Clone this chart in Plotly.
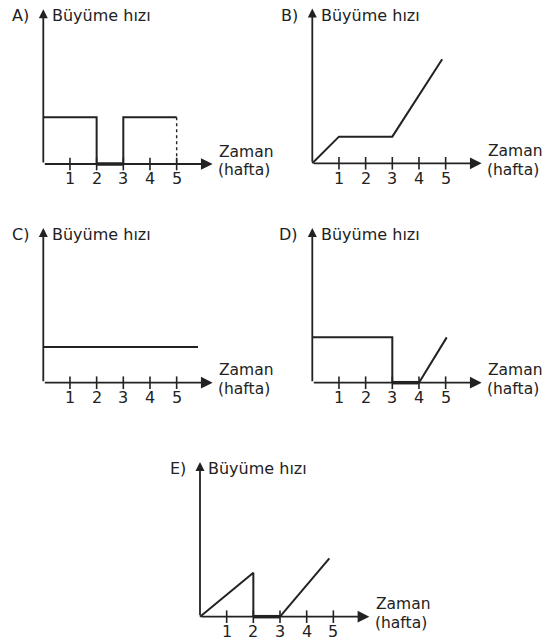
import plotly.graph_objects as go

# Five growth-rate sketches: Büyüme hızı (vertical) against Zaman in weeks (horizontal)
weeks = [1, 2, 3, 4, 5]
week_labels = ["1", "2", "3", "4", "5"]

# A) constant, stop between weeks 2-3, constant again until week 5
a_x = [0, 2, 2]
a_y = [1.75, 1.75, 0]
a_zero_x = [2, 3]
a_zero_y = [0, 0]
a_rest_x = [3, 3, 5]
a_rest_y = [0, 1.75, 1.75]
a_drop_x = [5, 5]
a_drop_y = [1.75, 0]

# B) rise, plateau, steeper rise
b_x = [0, 1, 3, 4.87]
b_y = [0, 1.0, 1.0, 3.9]

# C) constant the whole time
c_x = [0, 5.8]
c_y = [1.34, 1.34]

# D) constant until week 3, stop until week 4, then rise
d_x = [0, 3, 3]
d_y = [1.7, 1.7, 0]
d_zero_x = [3, 4]
d_zero_y = [0, 0]
d_rise_x = [4, 5.04]
d_rise_y = [0, 1.7]

# E) rise, sudden stop between weeks 2-3, rise again
e_x = [0, 2, 2]
e_y = [0, 1.65, 0]
e_zero_x = [2, 3]
e_zero_y = [0, 0]
e_rise_x = [3, 4.85]
e_rise_y = [0, 2.19]

W, H = 553, 640
UNIT = 26.67          # pixels per week / per rate unit
X_END, Y_END = 6.35, 5.8
INK = "#222222"
FONT = "DejaVu Sans"

# letter, origin (px), box (left, right, top, bottom) in px
panels = [
    ("A", (43.3, 164.0), (0, 276, 0, 205)),
    ("B", (312.3, 163.3), (276, 553, 0, 205)),
    ("C", (43.3, 382.7), (0, 276, 212, 425)),
    ("D", (312.3, 382.7), (276, 553, 212, 425)),
    ("E", (200.0, 616.7), (150, 553, 440, 640)),
]

fig = go.Figure()
layout_axes = {}
annotations = []


def add_line(i, xs, ys, width=2.0, dash="solid"):
    fig.add_trace(go.Scatter(
        x=xs, y=ys, mode="lines", xaxis=f"x{i}", yaxis=f"y{i}",
        line=dict(color=INK, width=width, dash=dash), hoverinfo="skip",
        showlegend=False,
    ))


def text(xr, yr, x, y, s, anchor, size=16):
    annotations.append(dict(
        x=x, y=y, xref=xr, yref=yr, text=s, showarrow=False,
        xanchor=anchor, yanchor="middle",
        font=dict(family=FONT, size=size, color=INK),
    ))


for n, (letter, (ox, oy), (l, r, t, b)) in enumerate(panels, start=1):
    suffix = "" if n == 1 else str(n)
    layout_axes[f"xaxis{suffix}"] = dict(
        domain=[l / W, r / W], range=[(l - ox) / UNIT, (r - ox) / UNIT],
        visible=False, anchor=f"y{n}", fixedrange=True,
    )
    layout_axes[f"yaxis{suffix}"] = dict(
        domain=[1 - b / H, 1 - t / H], range=[(oy - b) / UNIT, (oy - t) / UNIT],
        visible=False, anchor=f"x{n}", fixedrange=True,
    )
    xr, yr = f"x{n}", f"y{n}"

    # axes with arrow heads
    annotations.append(dict(
        x=X_END, y=0, ax=0, ay=0, xref=xr, yref=yr, axref=xr, ayref=yr,
        showarrow=True, arrowhead=2, arrowsize=1.3, arrowwidth=1.8,
        arrowcolor=INK, text="",
    ))
    annotations.append(dict(
        x=0, y=Y_END, ax=0, ay=0, xref=xr, yref=yr, axref=xr, ayref=yr,
        showarrow=True, arrowhead=2, arrowsize=1.0, arrowwidth=1.8,
        arrowcolor=INK, text="",
    ))
    # tick marks and labels
    fig.add_trace(go.Scatter(
        x=weeks, y=[0] * len(weeks), mode="markers", xaxis=xr, yaxis=yr,
        marker=dict(symbol="line-ns", size=9, line=dict(color=INK, width=1.6)),
        hoverinfo="skip", showlegend=False,
    ))
    for wk, lab in zip(weeks, week_labels):
        text(xr, yr, wk, -0.56, lab, "center")
    # titles
    text(xr, yr, -0.45, 5.55, f"{letter})", "right")
    text(xr, yr, 0.24, 5.55, "Büyüme hızı", "left")
    text(xr, yr, 6.52, 0.46, "Zaman", "left", size=15.5)
    text(xr, yr, 6.48, -0.24, "(hafta)", "left", size=15.5)

# curves
add_line(1, a_x, a_y)
add_line(1, a_zero_x, a_zero_y, width=3.5)
add_line(1, a_rest_x, a_rest_y)
add_line(1, a_drop_x, a_drop_y, width=1.4, dash="dot")

add_line(2, b_x, b_y)

add_line(3, c_x, c_y)

add_line(4, d_x, d_y)
add_line(4, d_zero_x, d_zero_y, width=3.5)
add_line(4, d_rise_x, d_rise_y)

add_line(5, e_x, e_y)
add_line(5, e_zero_x, e_zero_y, width=3.5)
add_line(5, e_rise_x, e_rise_y)

fig.update_layout(
    width=W, height=H, margin=dict(l=0, r=0, t=0, b=0),
    paper_bgcolor="white", plot_bgcolor="rgba(0,0,0,0)",
    showlegend=False, annotations=annotations, **layout_axes,
)

fig.write_html("out.html", include_plotlyjs=True, config={"displayModeBar": False})
